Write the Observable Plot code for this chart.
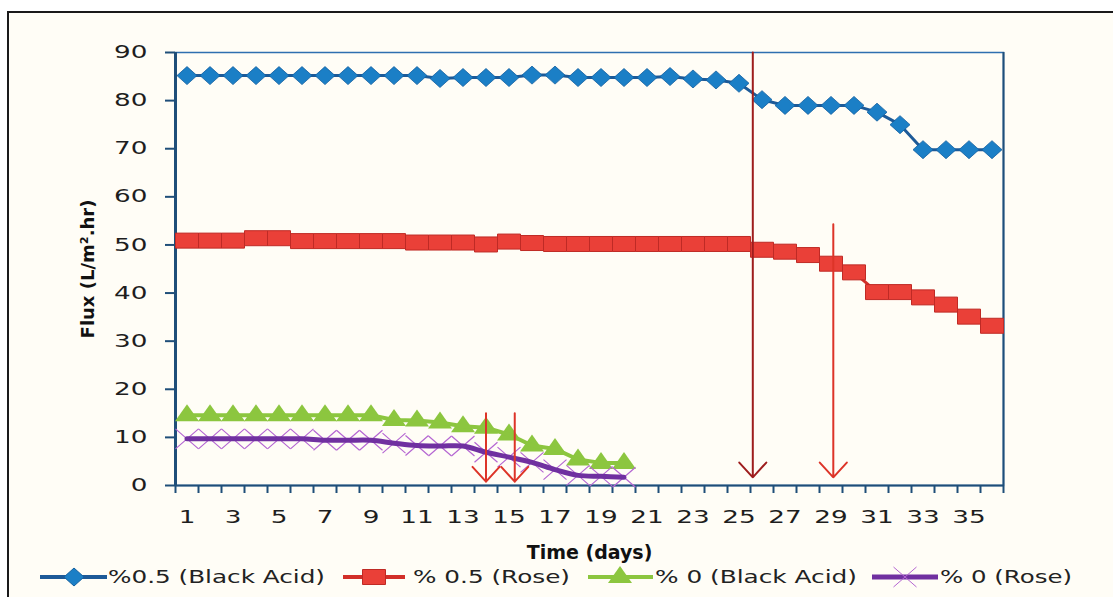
<!DOCTYPE html>
<html><head><meta charset="utf-8">
<script src="https://cdn.jsdelivr.net/npm/d3@7"></script>
<script src="https://cdn.jsdelivr.net/npm/@observablehq/plot@0.6"></script>
<style>
html,body{margin:0;padding:0;background:#fff;overflow:hidden;width:1113px;height:597px;}
#page{position:relative;width:1113px;height:597px;overflow:hidden;font-family:'DejaVu Sans',sans-serif;}
#frame{position:absolute;left:7px;top:11px;width:1200px;height:700px;border:2px solid #1a1a1a;background:#fffdf6;}
#chart{position:absolute;left:0;top:0;}
#legend{position:absolute;left:0;top:561px;}
</style></head><body>
<div id="page"><div id="frame"></div><div id="chart"></div><div id="legend"></div></div>
<script>
// ---- data ----
const days = [1,2,3,4,5,6,7,8,9,10,11,12,13,14,15,16,17,18,19,20,21,22,23,24,25,26,27,28,29,30,31,32,33,34,35,36];
const blackAcid05 = [85.2,85.2,85.2,85.2,85.2,85.2,85.2,85.2,85.2,85.2,85.2,84.6,84.8,84.8,84.8,85.3,85.3,84.8,84.8,84.8,84.8,85.0,84.5,84.3,83.6,80.2,79.0,79.0,79.0,79.0,77.6,75.0,69.8,69.8,69.8,69.8];
const rose05 = [50.9,50.9,50.9,51.4,51.4,50.8,50.8,50.8,50.8,50.8,50.5,50.5,50.5,50.1,50.7,50.4,50.2,50.2,50.2,50.2,50.2,50.2,50.2,50.2,50.2,49.0,48.6,47.9,46.1,44.3,40.2,40.2,39.1,37.6,35.1,33.2];
const daysShort = [1,2,3,4,5,6,7,8,9,10,11,12,13,14,15,16,17,18,19,20];
const blackAcid0 = [14.6,14.6,14.6,14.6,14.6,14.6,14.6,14.6,14.6,13.6,13.5,13.1,12.3,12.0,10.6,8.3,7.6,5.4,4.7,4.7];
const rose0 = [9.7,9.7,9.7,9.7,9.7,9.7,9.4,9.4,9.4,8.8,8.3,8.2,8.2,6.9,5.9,4.8,3.3,2.1,1.9,1.7];
const xTickLabels = [1,3,5,7,9,11,13,15,17,19,21,23,25,27,29,31,33,35];
const yTicks = [0,10,20,30,40,50,60,70,80,90];
const seriesNames = ["%0.5 (Black Acid)", "% 0.5 (Rose)", "% 0 (Black Acid)", "% 0 (Rose)"];
const arrowDay = [14, 15.25, 25.6, 29.1];
const arrowFrom = [15, 15, 90, 54.3];
const arrowTo = [0.8, 0.8, 1.7, 1.7];
const xTitle = "Time (days)";
const yTitle = "Flux (L/m².hr)";

// ---- tables ----
const rows = (xs, ys) => xs.map((d, i) => ({day: d, flux: ys[i]}));
const blueRows = rows(days, blackAcid05);
const redRows = rows(days, rose05);
const greenRows = rows(daysShort, blackAcid0);
const purpleRows = rows(daysShort, rose0);
const arrowRows = arrowDay.map((d, i) => ({day: d, from: arrowFrom[i], to: arrowTo[i]}));
const boundaries = days.map(d => d - 0.5).concat([days[days.length - 1] + 0.5]);

// ---- styles ----
const navy = "#1f4e79";
const C = {blue: "#1b7fc6", blueEdge: "#14609f", blueLine: "#1d5a98",
  red: "#ea4038", redEdge: "#bf2a25", redLine: "#d22f29",
  green: "#8cc63f", purple: "#7030a0", purpleMarker: "#b566d2",
  arrowDark: "#9e1d1d", arrowRed: "#dd3428"};

const diamondWide = {draw(c){c.moveTo(-10,0);c.lineTo(0,-9);c.lineTo(10,0);c.lineTo(0,9);c.closePath();}};
const rectWide = {draw(c){c.rect(-11.5,-7.5,23,15);}};
const triWide = {draw(c){c.moveTo(0,-11);c.lineTo(12,6);c.lineTo(-12,6);c.closePath();}};
const xWide = {draw(c){c.moveTo(-11.5,-10);c.lineTo(11.5,10);c.moveTo(-11.5,10);c.lineTo(11.5,-10);}};

const chart = Plot.plot({
  width: 1113, height: 565,
  marginLeft: 175, marginRight: 110, marginTop: 52, marginBottom: 80,
  style: {background: "transparent", fontFamily: "'DejaVu Sans', sans-serif", fontSize: "17.5px", color: "#1e1e1e"},
  x: {domain: [0.5, 36.5]},
  y: {domain: [0, 90]},
  marks: [
    Plot.frame({stroke: "#2e6fb0", strokeWidth: 1.5}),
    Plot.axisY({ticks: yTicks, tickSize: 10, tickFormat: () => "", color: navy, strokeWidth: 2, label: null}),
    Plot.axisY({ticks: yTicks, tickSize: 0, tickPadding: 28, color: "#1e1e1e", fontSize: 17.5, label: null}),
    Plot.axisX({ticks: boundaries, tickSize: 8, tickFormat: () => "", color: navy, strokeWidth: 2, label: null}),
    Plot.axisX({ticks: xTickLabels, tickSize: 0, tickPadding: 25, color: "#1e1e1e", fontSize: 17.5, label: null}),
    Plot.ruleX([0.5], {stroke: navy, strokeWidth: 3}),
    Plot.ruleX([36.5], {stroke: navy, strokeWidth: 2}),
    Plot.ruleY([0], {stroke: navy, strokeWidth: 2}),
    Plot.line(blueRows, {x: "day", y: "flux", stroke: C.blueLine, strokeWidth: 3}),
    Plot.dot(blueRows, {x: "day", y: "flux", symbol: diamondWide, fill: C.blue, stroke: C.blueEdge, strokeWidth: 0.8}),
    Plot.line(redRows, {x: "day", y: "flux", stroke: C.redLine, strokeWidth: 3}),
    Plot.dot(redRows, {x: "day", y: "flux", symbol: rectWide, fill: C.red, stroke: C.redEdge, strokeWidth: 1}),
    Plot.dot(greenRows, {x: "day", y: "flux", symbol: triWide, fill: C.green}),
    Plot.line(greenRows, {x: "day", y: "flux", stroke: C.green, strokeWidth: 4}),
    Plot.dot(purpleRows, {x: "day", y: "flux", symbol: xWide, stroke: C.purpleMarker, strokeWidth: 1.2, fill: "none"}),
    Plot.line(purpleRows, {x: "day", y: "flux", stroke: C.purple, strokeWidth: 5, curve: "catmull-rom"}),
    Plot.arrow(arrowRows.filter(d => d.from >= 90), {x: "day", y1: "from", y2: "to", stroke: C.arrowDark, strokeWidth: 2, headAngle: 85, headLength: 15}),
    Plot.arrow(arrowRows.filter(d => d.from < 90), {x: "day", y1: "from", y2: "to", stroke: C.arrowRed, strokeWidth: 2, headAngle: 85, headLength: 15}),
    Plot.text([yTitle], {text: d => d, frameAnchor: "left", textAnchor: "middle", lineAnchor: "middle", dx: -87, rotate: -90, fontWeight: "bold", fontSize: 18, fill: "#111", ariaLabel: "y-title"}),
    Plot.text([xTitle], {text: d => d, frameAnchor: "bottom", dy: 73, fontWeight: "bold", fontSize: 19, fill: "#111", ariaLabel: "x-title"})
  ]
});
document.getElementById("chart").appendChild(chart);

// horizontal stretch of texts (the reference is horizontally stretched)
const stretch = {"y-axis tick label": [1.5, 1], "x-axis tick label": [1.5, 1], "x-title": [1.16, 1], "y-title": [1, 1.6]};
chart.querySelectorAll("g[aria-label]").forEach(g => {
  const s = stretch[g.getAttribute("aria-label")];
  if (!s) return;
  g.querySelectorAll("text").forEach(t => {
    let tr = t.getAttribute("transform") || "";
    if (!tr) {
      const x = +t.getAttribute("x") || 0, y = +t.getAttribute("y") || 0;
      t.removeAttribute("x"); t.removeAttribute("y");
      tr = `translate(${x},${y})`;
    }
    t.setAttribute("transform", `${tr} scale(${s[0]},${s[1]})`);
  });
});

// ---- legend ----
const lg = d3.select("#legend").append("svg").attr("width", 1113).attr("height", 32);
const cy = 16;
const items = [
  {x0: 40, x1: 107, m: 74, line: C.blueLine, lw: 4, sym: diamondWide, fill: C.blue, stroke: C.blueEdge, tx: 108, tw: 217},
  {x0: 343, x1: 405, m: 374, line: C.redLine, lw: 4, sym: rectWide, fill: C.red, stroke: C.redEdge, tx: 413, tw: 157},
  {x0: 588, x1: 653, m: 620, line: C.green, lw: 4, sym: triWide, fill: C.green, stroke: "none", tx: 655, tw: 202},
  {x0: 872, x1: 938, m: 905, line: C.purple, lw: 5, sym: xWide, fill: "none", stroke: C.purpleMarker, tx: 940, tw: 132}
];
items.forEach((it, i) => {
  lg.append("line").attr("x1", it.x0).attr("x2", it.x1).attr("y1", cy).attr("y2", cy)
    .attr("stroke", it.line).attr("stroke-width", it.lw);
  lg.append("path").attr("d", d3.symbol(it.sym)()).attr("transform", `translate(${it.m},${cy})`)
    .attr("fill", it.fill).attr("stroke", it.stroke).attr("stroke-width", 1);
  lg.append("text").attr("x", it.tx).attr("y", cy).attr("dy", "0.36em")
    .attr("font-family", "'DejaVu Sans', sans-serif").attr("font-size", 18).attr("fill", "#222")
    .attr("textLength", it.tw).attr("lengthAdjust", "spacingAndGlyphs")
    .text(seriesNames[i]);
});
</script>
</body></html>
